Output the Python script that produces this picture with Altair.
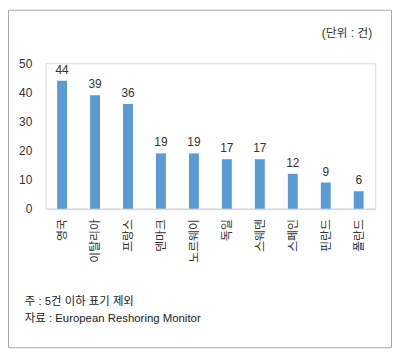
import altair as alt
import pandas as pd

countries = ["영국", "이탈리아", "프랑스", "덴마크", "노르웨이", "독일", "스웨덴", "스페인", "핀란드", "폴란드"]
counts = [44, 39, 36, 19, 19, 17, 17, 12, 9, 6]
y_ticks = [0, 10, 20, 30, 40, 50]

unit_label = "(단위 : 건)"
note_line1 = "주 : 5건 이하 표기 제외"
note_line2 = "자료 : European Reshoring Monitor"

FONT = "Liberation Sans, Noto Sans CJK KR, sans-serif"
W, H = 333, 147

df = pd.DataFrame({"country": countries, "count": counts})

x_enc = alt.X(
    "country:N", sort=countries, title=None,
    scale=alt.Scale(paddingInner=0.7, paddingOuter=0.35),
    axis=alt.Axis(labelAngle=270, labelPadding=10, ticks=False, domainColor="#d0d0d0",
                  labelFontSize=12, labelColor="#333333", labelFont=FONT),
)
y_enc = alt.Y(
    "count:Q", title=None,
    scale=alt.Scale(domain=[0, 50]),
    axis=alt.Axis(values=y_ticks, tickCount=6, grid=False, ticks=False, domainColor="#e6e6e6",
                  labelOverlap=False, labelFlush=False,
                  labelPadding=14, labelFontSize=12, labelColor="#333333", labelFont=FONT),
)

base = alt.Chart(df)
bars = base.mark_bar(color="#5b9bd5").encode(x=x_enc, y=y_enc)
labels = base.mark_text(baseline="bottom", dy=-4, fontSize=12, color="#333333", font=FONT).encode(
    x=x_enc, y=y_enc, text="count:Q"
)


def static_text(txt, x, y, align, size, color):
    return alt.Chart(pd.DataFrame({"t": [txt]})).mark_text(
        align=align, baseline="middle", fontSize=size, color=color, font=FONT
    ).encode(x=alt.value(x), y=alt.value(y), text="t:N")


unit = static_text(unit_label, 330, -30, "right", 12, "#333333")
note1 = static_text(note_line1, -21, 241, "left", 11.5, "#222222")
note2 = static_text(note_line2, -21, 258, "left", 11.5, "#222222")

frame = alt.Chart(pd.DataFrame({"a": [0]})).mark_rect(
    fill=None, stroke="#a6a6a6", strokeWidth=1
).encode(x=alt.value(-37.5), x2=alt.value(349.5), y=alt.value(-53.5), y2=alt.value(287.5))

chart = alt.layer(bars, labels, unit, note1, note2, frame).properties(
    width=W, height=H,
    autosize=alt.AutoSizeParams(type="none"),
    padding={"left": 38, "top": 54, "right": 17, "bottom": 141},
).configure_view(stroke=None).configure(background="white")

chart.save("out.html", embed_options={"renderer": "svg", "actions": False})
